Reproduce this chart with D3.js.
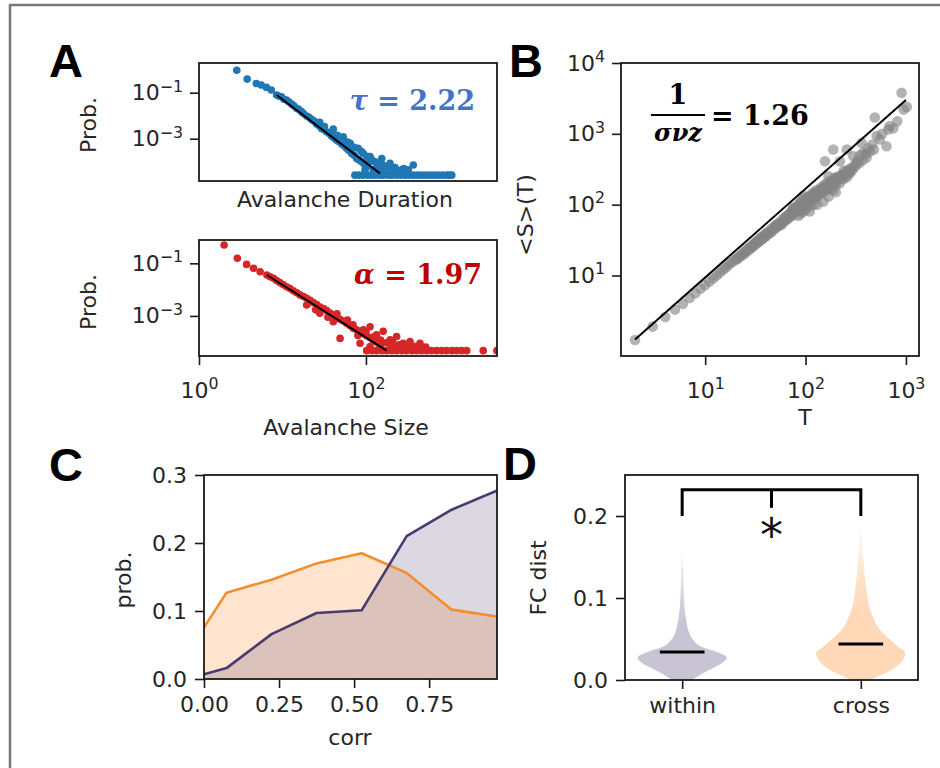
<!DOCTYPE html>
<html>
<head>
<meta charset="utf-8">
<script src="https://cdn.jsdelivr.net/npm/d3@7"></script>
<style>
  body { margin: 0; background: #fff; }
</style>
</head>
<body>
<svg id="fig" width="940" height="768" font-family="DejaVu Sans, sans-serif"></svg>
<script>
// ---- panel A: avalanche duration / size distributions ----
var durationPts = [
  [2.0,0.95],[2.85,0.39],[3.9,0.25],[4.6,0.215],[5.5,0.17],[6.5,0.13],[7.8,0.079],[9.2,0.067],
  [10.9,0.048],[13,0.032],[15.4,0.021],[18.2,0.015],[21.7,0.0097],[25.7,0.0069],[30.5,0.0044],
  [36,0.0028],[43,0.002],[51,0.0013],[60,0.00087],[72,0.00059],[85,0.00038],[101,0.00023],
  [120,0.000138],[142,0.0001],[169,0.00006],[34,0.0052],[54,0.0026],[76,0.0012],[96,0.00063],
  [126,0.00038],[150,0.00023],[190,0.000166],[225,0.0001],[283,0.000138],[375,0.000085],
  [330,0.000051],[445,0.000056],[830,0.000072],[213,0.000044],[270,0.000037],
  [8.5,0.07],[10,0.052],[11.8,0.04],[14,0.027],[16.5,0.019],[19.5,0.0125],[23.5,0.0085],
  [28,0.0058],[33,0.0037],[39,0.0025],[47,0.0017],[55,0.0011],[65,0.00075],[78,0.00049],
  [92,0.00031],[110,0.00019],[130,0.00012],[155,0.00008],
  [40,0.0034],[62,0.0014],[88,0.00072],[110,0.00042],[140,0.00028],[170,0.00017],[200,0.00012],
  [250,0.00009],[300,0.00007],[180,0.00009],[240,0.000065],[350,0.00006],[600,0.00005],[520,0.00004],
  [113,2.6e-5],[130,2.6e-5],[150,2.6e-5],[175,2.6e-5],[200,2.6e-5],[230,2.6e-5],[266,2.6e-5],
  [300,2.6e-5],[354,2.6e-5],[400,2.6e-5],[470,2.6e-5],[540,2.6e-5],[630,2.6e-5],[720,2.6e-5],
  [835,2.6e-5],[960,2.6e-5],[1100,2.6e-5],[1280,2.6e-5],[1470,2.6e-5],[1700,2.6e-5],
  [1960,2.6e-5],[2250,2.6e-5],[2600,2.6e-5],[2850,2.6e-5],[3090,2.6e-5],
  [160,4.4e-5],[240,4.4e-5],[320,4.4e-5],[420,4.4e-5],[560,4.4e-5],[700,4.4e-5]
];
var durationFit = [[7.8,0.079],[266,3.1e-5]];

var sizePts = [
  [2.0,0.50],[2.88,0.155],[3.72,0.091],[4.5,0.065],[5.4,0.048],[6.5,0.036],[7.8,0.027],
  [9.3,0.0185],[11.2,0.0129],[13.5,0.0091],[16.2,0.0063],[19.5,0.0047],[23.4,0.0032],
  [28.1,0.0022],[33.8,0.0016],[40.6,0.0011],[48.8,0.00075],[58.6,0.00053],[70.4,0.00034],
  [84.5,0.00026],[102,0.000175],[122,0.000123],[147,0.000079],[19.5,0.0026],[28,0.00126],
  [40.6,0.0006],[49,0.00014],[70,0.00046],[93,0.0003],[112,0.00039],[134,0.00019],
  [161,0.00026],[195,0.000123],[233,0.000166],[280,0.000091],[337,0.000107],[444,0.000091],
  [85,0.000091],[112,0.000069],
  [7.1,0.031],[8.5,0.022],[10.2,0.0155],[12.3,0.011],[14.8,0.0076],[17.8,0.0055],[21.4,0.0039],
  [25.7,0.0027],[31,0.0019],[37,0.0013],[44.5,0.0009],[53.5,0.00064],[64,0.00043],[77,0.0003],
  [93,0.00021],[112,0.00015],[134,0.0001],
  [25,0.0017],[35,0.0009],[45,0.0012],[60,0.0007],[80,0.00018],[100,0.00026],[125,0.00016],
  [150,0.00012],[175,0.000095],[210,0.0001],[250,0.00008],[300,0.000075],[380,0.00007],[220,0.00007],
  [102,4.8e-5],[118,4.8e-5],[134,4.8e-5],[155,4.8e-5],[177,4.8e-5],[205,4.8e-5],[233,4.8e-5],
  [270,4.8e-5],[307,4.8e-5],[355,4.8e-5],[405,4.8e-5],[465,4.8e-5],[533,4.8e-5],[610,4.8e-5],
  [703,4.8e-5],[810,4.8e-5],[925,4.8e-5],[1070,4.8e-5],[1220,4.8e-5],[1400,4.8e-5],
  [1610,4.8e-5],[2540,4.8e-5],[3700,4.8e-5],
  [150,6.5e-5],[200,6.5e-5],[260,6.5e-5],[340,6.5e-5],[430,6.5e-5],[520,6.5e-5]
];
var sizeFit = [[6.5,0.036],[177,4.8e-5]];

var probTicks = [0.1, 0.001];
var sizeTicks = [1, 100];

// ---- panel B: <S>(T) scaling ----
var scalingPts = [
  [2,1.23],[3,1.9],[4,2.6],[5,3.3],[6,4.0],[7,4.8],[8,5.6],[9,6.5],[10,7.3],[11,8.2],[12,9.1],
  [13,10.0],[14,11.0],[15,12.0],[16,12.9],[17,13.9],[18,15.0],[19,15.8],[20,17.0],[21,17.6],
  [22,19.0],[23,19.5],[24,21.3],[25,21.5],[26,23.4],[27,23.8],[28,25.5],[29,25.2],[30,27.6],
  [31,27.5],[32,29.8],[33,31],[34,30.2],[35,33.5],[36,34.5],[37,33],[38,36.5],[40,39],[40,36],
  [42,41],[43,38.5],[45,45],[46,41],[48,48],[50,51],[50,46],[52,53],[54,50],[55,57],[57,55],
  [58,52],[60,63],[60,57],[62,66],[64,60],[65,70],[67,63],[68,72],[70,76],[70,68],[72,80],
  [74,70],[75,85],[75,90],[77,78],[78,90],[80,88],[80,80],[82,95],[84,86],[85,100],[85,70],
  [87,92],[88,108],[90,102],[90,94],[90,75],[92,112],[95,105],[95,135],[95,80],[97,120],
  [100,115],[100,104],[100,85],[103,125],[105,112],[108,130],[110,118],[110,95],[110,80],
  [112,128],[115,140],[118,124],[120,150],[120,100],[122,132],[125,142],[128,160],[130,128],
  [130,100],[135,150],[140,170],[140,140],[145,158],[150,185],[150,150],[150,110],[155,165],
  [160,200],[165,160],[170,180],[170,130],[175,215],[180,175],[190,205],[195,240],[200,190],
  [200,150],[210,225],[220,200],[230,260],[240,230],[250,280],[260,245],[277,280],[220,410],
  [189,600],[156,410],[175,203],[169,251],[189,163],[213,251],[258,600],[299,483],[362,740],
  [376,540],[405,460],[490,1700],[510,930],[550,830],[640,668],[667,1150],[690,1290],
  [905,3800],[1020,2400],[300,350],[330,420],[350,500],[420,620],[460,700],[580,1000],
  [750,1200],[820,1500],[950,2200],[280,310],[320,380],[240,300],[200,240],[180,210],
  [160,170],[140,160],[120,135],[130,148],
  [21,17],[23,18.8],[25,20.5],[27,22.5],[29,24.5],[31,26.5],[33,28.5],[35,30.5],[37,32.5],
  [39,34.5],[41,37],[44,40.5],[47,44],[49,46],[51,49],[53,50],[56,54],[59,57],[61,60],[63,63],
  [66,66],[69,69],[71,73],[73,76],[76,77],[79,82],[81,86],[83,91],[86,84],[89,90],[91,98],
  [93,93],[96,97],[98,110],[102,101],[104,118],[106,108],[109,122],[113,113],[116,130],
  [119,118],[123,138],[126,127],[129,141],[133,136],[137,155],[142,150],[147,166],[152,161],
  [158,176],[163,186],[168,171],[173,191],[178,196],[185,201],[192,216],[198,206],[205,231],
  [215,241],[225,236],[235,271],[245,256],[255,301],[265,271],[275,321],[290,301],[310,341],
  [340,381],[370,421],[400,521],[440,561],[480,601]
];
var scalingFit = [[2,1.25],[1000,3000]];
var sTicks = [10, 100, 1000, 10000];
var tTicks = [10, 100, 1000];

// ---- panel C: corr distributions ----
var corrBins = [0, 0.075, 0.225, 0.375, 0.525, 0.675, 0.825, 0.975];
var crossProb = [0.076, 0.127, 0.146, 0.170, 0.185, 0.156, 0.102, 0.092];
var withinProb = [0.007, 0.016, 0.066, 0.097, 0.101, 0.210, 0.249, 0.277];
var corrTicks = [0, 0.25, 0.5, 0.75];
var probLinTicks = [0, 0.1, 0.2, 0.3];

// ---- panel D: FC distance violins ----
var groups = ["within", "cross"];
var withinVals = [0.000,0.006,0.013,0.020,0.027,0.034,0.041,0.050,0.060,0.070,0.085,0.100,0.125,0.150,0.165];
var withinDens = [0.22,0.40,0.64,0.88,1.00,0.78,0.42,0.23,0.14,0.10,0.06,0.04,0.025,0.012,0];
var crossVals = [0.000,0.006,0.012,0.020,0.027,0.033,0.040,0.049,0.057,0.065,0.077,0.089,0.105,0.122,0.140,0.160,0.180,0.195];
var crossDens = [0.22,0.45,0.68,0.88,0.97,1.00,0.85,0.66,0.50,0.38,0.27,0.19,0.14,0.10,0.07,0.045,0.02,0];
var medians = [0.034, 0.044];
var fcTicks = [0, 0.1, 0.2];

var svg = d3.select("#fig");
var defs = svg.append("defs");
var ink = "#1a1a1a";
var fs = 22;

// outer frame (left and top edges of the cropped figure)
svg.append("path").attr("d", "M10,768V5H940")
  .attr("fill", "none").attr("stroke", "#7a7a7a").attr("stroke-width", 2.5);

function panel(id, x, y, w, h) {
  defs.append("clipPath").attr("id", id).append("rect").attr("width", w).attr("height", h);
  var g = svg.append("g").attr("transform", "translate(" + x + "," + y + ")");
  g.plot = g.append("g").attr("clip-path", "url(#" + id + ")");
  g.w = w; g.h = h;
  return g;
}
function box(g) {
  g.append("rect").attr("width", g.w).attr("height", g.h)
    .attr("fill", "none").attr("stroke", ink).attr("stroke-width", 1.8);
}
function styleAxis(a) {
  a.attr("font-size", fs).attr("font-family", null);
  a.select(".domain").remove();
  a.selectAll(".tick line").attr("stroke", ink).attr("stroke-width", 1.6);
  a.selectAll(".tick text").attr("fill", "#262626");
}
function powLabels(a) {
  a.selectAll(".tick text").each(function(d) {
    var t = d3.select(this).text("");
    var e = Math.round(Math.log10(d));
    t.append("tspan").text("10");
    t.append("tspan").attr("dy", "-0.55em").attr("font-size", "0.72em")
      .text(e < 0 ? "\u2212" + (-e) : String(e));
  });
}
function logLeft(g, y, ticks) {
  var a = g.append("g").call(d3.axisLeft(y).tickValues(ticks).tickSize(9).tickPadding(7).tickFormat(function() { return ""; }));
  styleAxis(a); powLabels(a);
  return a;
}
function logBottom(g, x, ticks) {
  var a = g.append("g").attr("transform", "translate(0," + g.h + ")")
    .call(d3.axisBottom(x).tickValues(ticks).tickSize(9).tickPadding(7).tickFormat(function() { return ""; }));
  styleAxis(a); powLabels(a);
  a.selectAll(".tick text").attr("dy", null).attr("y", 42);
  return a;
}
function yLabel(x, y, txt) {
  svg.append("text").attr("transform", "translate(" + x + "," + y + ") rotate(-90)")
    .attr("text-anchor", "middle").attr("font-size", fs).attr("fill", "#262626").text(txt);
}
function xLabel(x, y, txt) {
  svg.append("text").attr("x", x).attr("y", y).attr("text-anchor", "middle")
    .attr("font-size", fs).attr("fill", "#262626").text(txt);
}
function letter(x, y, txt) {
  svg.append("text").attr("x", x).attr("y", y).attr("font-size", 47).attr("font-weight", "bold")
    .attr("font-family", "Liberation Sans, Arial, sans-serif").attr("fill", "#000").text(txt);
}
function dots(g, pts, x, y, r, color, op) {
  g.plot.selectAll(null).data(pts).enter().append("circle")
    .attr("cx", function(d) { return x(d[0]); }).attr("cy", function(d) { return y(d[1]); })
    .attr("r", r).attr("fill", color).attr("fill-opacity", op);
}
function fitLine(g, pts, x, y) {
  g.plot.append("path").datum(pts)
    .attr("d", d3.line().x(function(d) { return x(d[0]); }).y(function(d) { return y(d[1]); }))
    .attr("stroke", "#000").attr("stroke-width", 2).attr("fill", "none");
}

// ---------- A (top): duration ----------
var a1 = panel("clipA1", 199, 63, 298, 118);
var xDur = d3.scaleLog().domain([0.55, 14500]).range([0, a1.w]);
var yDur = d3.scaleLog().domain([1.45e-5, 1.95]).range([a1.h, 0]);
dots(a1, durationPts, xDur, yDur, 3.8, "#1f77b4", 1);
fitLine(a1, durationFit, xDur, yDur);
logLeft(a1, yDur, probTicks);
box(a1);
yLabel(96, 125, "Prob.");
xLabel(345, 207, "Avalanche Duration");

// ---------- A (bottom): size ----------
var a2 = panel("clipA2", 199, 240, 298, 116);
var xSize = d3.scaleLog().domain([1, 3715]).range([0, a2.w]);
var ySize = d3.scaleLog().domain([3.0e-5, 0.77]).range([a2.h, 0]);
dots(a2, sizePts, xSize, ySize, 3.8, "#d62728", 1);
fitLine(a2, sizeFit, xSize, ySize);
logLeft(a2, ySize, probTicks);
logBottom(a2, xSize, sizeTicks);
box(a2);
yLabel(96, 302, "Prob.");
xLabel(346, 435, "Avalanche Size");

var expFont = "DejaVu Serif, serif";
var tau = svg.append("text").attr("x", 475).attr("y", 110).attr("text-anchor", "end")
  .attr("font-family", expFont).attr("font-weight", "bold").attr("font-size", 27)
  .attr("fill", "#4472c4");
tau.append("tspan").attr("font-style", "italic").text("\u03c4");
tau.append("tspan").text(" = 2.22");
var alpha = svg.append("text").attr("x", 482).attr("y", 284).attr("text-anchor", "end")
  .attr("font-family", expFont).attr("font-weight", "bold").attr("font-size", 27)
  .attr("fill", "#c00000");
alpha.append("tspan").attr("font-style", "italic").text("\u03b1");
alpha.append("tspan").text(" = 1.97");

letter(49, 77, "A");

// ---------- B: <S>(T) ----------
var b = panel("clipB", 621, 63, 298, 293);
var xT = d3.scaleLog().domain([1.45, 1350]).range([0, b.w]);
var yS = d3.scaleLog().domain([0.73, 10000]).range([b.h, 0]);
dots(b, scalingPts, xT, yS, 5.3, "#858585", 0.62);
fitLine(b, scalingFit, xT, yS);
logLeft(b, yS, sTicks);
logBottom(b, xT, tTicks);
box(b);
yLabel(533, 215, "<S>(T)");
xLabel(805, 425, "T");

var fr = svg.append("g").attr("font-family", expFont).attr("font-weight", "bold").attr("font-size", 27).attr("fill", "#000");
fr.append("text").attr("x", 678).attr("y", 104).attr("text-anchor", "middle").text("1");
fr.append("line").attr("x1", 651).attr("x2", 705).attr("y1", 115).attr("y2", 115)
  .attr("stroke", "#000").attr("stroke-width", 1.8);
fr.append("text").attr("x", 678).attr("y", 141).attr("text-anchor", "middle").attr("font-style", "italic")
  .attr("font-size", 24).text("\u03c3\u03bdz");
fr.append("text").attr("x", 711).attr("y", 125).text("= 1.26");

letter(509, 77, "B");

// ---------- C: corr distributions ----------
var c = panel("clipC", 204, 475, 293, 204);
var xCorr = d3.scaleLinear().domain([0, 0.976]).range([0, c.w]);
var yProb = d3.scaleLinear().domain([0, 0.3]).range([c.h, 0]);
var series = [
  { vals: crossProb, color: "#ff7f0e", line: "#f28e2b" },
  { vals: withinProb, color: "#4a3b6e", line: "#4a3b6e" }
];
var areaGen = d3.area().x(function(d, i) { return xCorr(corrBins[i]); }).y0(yProb(0)).y1(function(d) { return yProb(d); });
var lineGen = d3.line().x(function(d, i) { return xCorr(corrBins[i]); }).y(function(d) { return yProb(d); });
series.forEach(function(s) {
  c.plot.append("path").datum(s.vals).attr("d", areaGen).attr("fill", s.color).attr("fill-opacity", 0.2);
});
series.forEach(function(s) {
  c.plot.append("path").datum(s.vals).attr("d", lineGen).attr("fill", "none")
    .attr("stroke", s.line).attr("stroke-width", 2.6).attr("stroke-linejoin", "round");
});
var cy = c.append("g").call(d3.axisLeft(yProb).tickValues(probLinTicks).tickSize(9).tickPadding(8).tickFormat(d3.format(".1f")));
styleAxis(cy);
var cx = c.append("g").attr("transform", "translate(0," + c.h + ")")
  .call(d3.axisBottom(xCorr).tickValues(corrTicks).tickSize(9).tickPadding(8).tickFormat(d3.format(".2f")));
styleAxis(cx);
box(c);
yLabel(131, 580, "prob.");
xLabel(350, 745, "corr");
letter(49, 481, "C");

// ---------- D: FC distance violins ----------
var dp = panel("clipD", 625, 475, 293, 205);
var xG = d3.scaleLinear().domain([0.68, 2.32]).range([0, dp.w]);
var yFC = d3.scaleLinear().domain([0, 0.25]).range([dp.h, 0]);
var violins = [
  { pos: 1, vals: withinVals, dens: withinDens, fill: "#c9c4d4", id: "gradW" },
  { pos: 2, vals: crossVals, dens: crossDens, fill: "#ffd8b7", id: "gradC" }
];
violins.forEach(function(v, k) {
  var gr = defs.append("linearGradient").attr("id", v.id).attr("x1", 0).attr("y1", 0).attr("x2", 0).attr("y2", 1);
  gr.append("stop").attr("offset", 0).attr("stop-color", v.fill).attr("stop-opacity", 0);
  gr.append("stop").attr("offset", 0.4).attr("stop-color", v.fill).attr("stop-opacity", 0.8);
  gr.append("stop").attr("offset", 0.6).attr("stop-color", v.fill).attr("stop-opacity", 1);
  var halfW = xG(v.pos + 0.25) - xG(v.pos);
  var shape = d3.area().curve(d3.curveMonotoneY)
    .y(function(d, i) { return yFC(v.vals[i]); })
    .x0(function(d) { return xG(v.pos) - d * halfW; })
    .x1(function(d) { return xG(v.pos) + d * halfW; });
  dp.plot.append("path").datum(v.dens).attr("d", shape).attr("fill", "url(#" + v.id + ")");
  dp.plot.append("line")
    .attr("x1", xG(v.pos - 0.125)).attr("x2", xG(v.pos + 0.125))
    .attr("y1", yFC(medians[k])).attr("y2", yFC(medians[k]))
    .attr("stroke", "#000").attr("stroke-width", 3);
});
var bracket = [[1, 0.2], [1, 0.232], [2, 0.232], [2, 0.2]];
var stem = [[1.5, 0.232], [1.5, 0.21]];
var brLine = d3.line().x(function(d) { return xG(d[0]); }).y(function(d) { return yFC(d[1]); });
[bracket, stem].forEach(function(p) {
  dp.append("path").datum(p).attr("d", brLine).attr("fill", "none").attr("stroke", "#000").attr("stroke-width", 3);
});
dp.append("text").attr("x", xG(1.5)).attr("y", yFC(0.191)).attr("dy", "0.59em")
  .attr("text-anchor", "middle").attr("font-size", 46).attr("fill", "#111").text("*");
var dy = dp.append("g").call(d3.axisLeft(yFC).tickValues(fcTicks).tickSize(9).tickPadding(8).tickFormat(d3.format(".1f")));
styleAxis(dy);
var dx = dp.append("g").attr("transform", "translate(0," + dp.h + ")")
  .call(d3.axisBottom(xG).tickValues([1, 2]).tickSize(9).tickPadding(8).tickFormat(function(d) { return groups[d - 1]; }));
styleAxis(dx);
box(dp);
yLabel(546, 578, "FC dist");
letter(503, 480, "D");
</script>
</body>
</html>
